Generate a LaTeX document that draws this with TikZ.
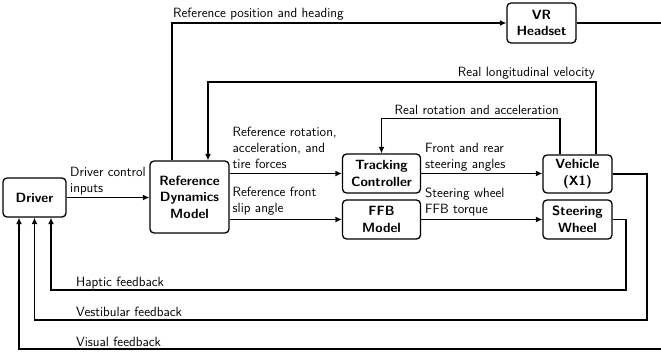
\documentclass[tikz,border=0pt]{standalone}
\usetikzlibrary{arrows.meta}
\begin{document}
\begin{tikzpicture}[x=1pt,y=-1pt,
  font=\fontsize{13.4}{16}\selectfont\sffamily,
  box/.style={draw, line width=1.3pt, rounded corners=4pt, align=center, inner sep=0pt,
    font=\fontsize{13.4}{16.5}\selectfont\sffamily\bfseries},
  conn/.style={line width=1.5pt, -{Latex[length=6.5pt,width=6pt]}},
  lbl/.style={inner sep=0pt, align=left}]
\useasboundingbox (0,0) rectangle (661,351);

\node[box, minimum width=63pt, minimum height=39pt] (driver) at (34.5,197.5) {Driver};
\node[box, minimum width=79pt, minimum height=72pt] (rdm) at (189.5,197) {Reference\\Dynamics\\Model};
\node[box, minimum width=78pt, minimum height=39pt] (tc) at (381.5,173.5) {Tracking\\Controller};
\node[box, minimum width=78pt, minimum height=39pt] (ffb) at (381.5,219.5) {FFB\\Model};
\node[box, minimum width=69pt, minimum height=38pt] (veh) at (577.5,174) {Vehicle\\(X1)};
\node[box, minimum width=69pt, minimum height=39pt] (sw) at (577.5,219.5) {Steering\\Wheel};
\node[box, minimum width=69pt, minimum height=40pt] (vr) at (541.5,23) {VR\\Headset};

\coordinate (lvy) at (0,82);
\coordinate (rry) at (0,118.5);
\coordinate (vestR) at (647,320);
\coordinate (hapR) at (626,290);
\coordinate (visR) at (664,349);

\draw[conn] (driver.east) -- (rdm.west |- driver.east);
\draw[conn] (rdm.east |- tc.west) -- (tc.west);
\draw[conn] (rdm.east |- ffb.west) -- (ffb.west);
\draw[conn] (tc.east) -- (veh.west |- tc.east);
\draw[conn] (ffb.east) -- (sw.west |- ffb.east);
\draw[conn] ([xshift=-17.5pt]rdm.north) |- (vr.west);
\draw[conn] ([xshift=18.5pt]veh.north) |- ([xshift=18.5pt]rdm.north |- lvy) -- ([xshift=18.5pt]rdm.north);
\draw[conn] ([xshift=-17.5pt]veh.north) |- (tc.north |- rry) -- (tc.north);
\draw[conn] (veh.east) -| (vestR) -| (driver.south);
\draw[conn] (sw.east) -| (hapR) -| ([xshift=16.5pt]driver.south);
\draw[conn] (vr.east) -| (visR) -| ([xshift=-15.5pt]driver.south);

\node[lbl, anchor=base west] (lref) at (173,17.5) {Reference position and heading};
\node[lbl, anchor=base east] (llv) at (595,76) {Real longitudinal velocity};
\node[lbl, anchor=base east] (lrr) at (559,114.5) {Real rotation and acceleration};
\node[lbl, anchor=base west] (lrra) at (232.5,168) {Reference rotation,\\acceleration, and\\tire forces};
\node[lbl, anchor=base west] (lrfs) at (232.5,212.5) {Reference front\\slip angle};
\node[lbl, anchor=base west] (lfr) at (425,168) {Front and rear\\steering angles};
\node[lbl, anchor=base west] (lsw) at (425,213) {Steering wheel\\FFB torque};
\node[lbl, anchor=base west] (ldc) at (70,192) {Driver control\\inputs};
\node[lbl, anchor=base west] (lhap) at (76,286) {Haptic feedback};
\node[lbl, anchor=base west] (lves) at (76,316) {Vestibular feedback};
\node[lbl, anchor=base west] (lvis) at (76,346) {Visual feedback};
\end{tikzpicture}
\end{document}
